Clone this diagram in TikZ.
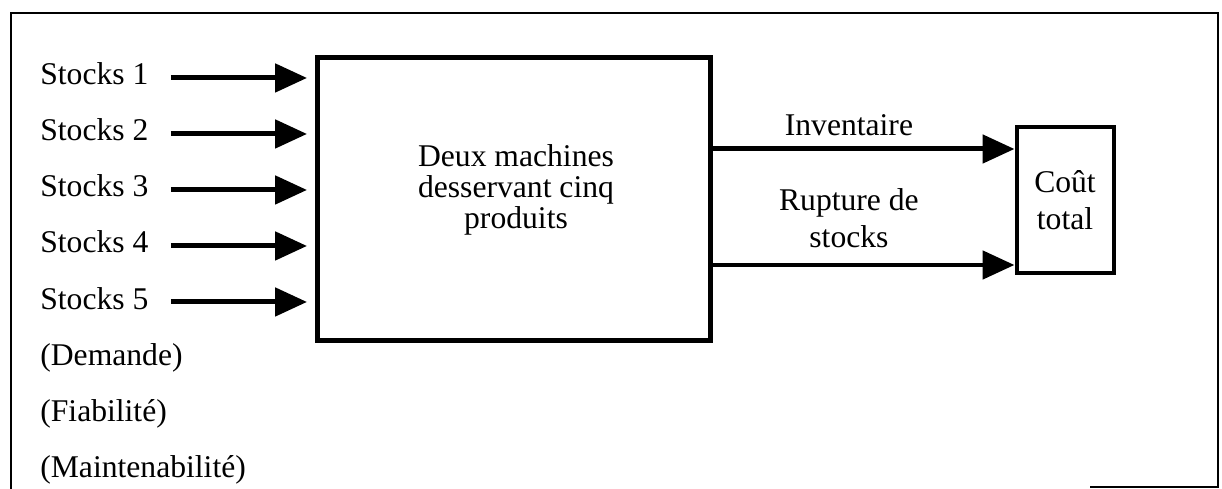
\documentclass[tikz,border=0pt]{standalone}
\usepackage{fontspec}
\setmainfont{Liberation Serif}
\usetikzlibrary{arrows.meta, positioning}

\begin{document}
\begin{tikzpicture}[x=0.02cm, y=-0.02cm, font=\fontsize{18}{21}\selectfont]
		\tikzstyle{bigbox} = [draw=black, line width=0.1cm, minimum width=7.88cm, minimum height=5.68cm]
		\tikzstyle{costbox} = [draw=black, line width=0.08cm, minimum width=1.94cm, minimum height=2.94cm, align=center, font=\fontsize{18}{20.8}\selectfont]
		\tikzstyle{invar} = [anchor=base west, inner xsep=0pt, text height=12pt, text depth=4pt]
		\tikzstyle{arrow} = [line width=0.1cm, -{Triangle[length=0.64cm, width=0.56cm]}]
		\tikzstyle{feed} = [shorten <=0.44cm, shorten >=0.15cm]
		
		\useasboundingbox (0,0) rectangle (1222,489);
		% cadre
		\draw[line width=0.04cm] (11,489) -- (11,13) -- (1218,13) -- (1218,487) -- (1090,487);
		
		\node[bigbox] 	at (514, 199) 	(mach) 	{};
		\node[align=center, font=\fontsize{18}{17.5}\selectfont] at (516, 190) (titre) {Deux machines\\desservant cinq\\produits};
		\node[costbox] 	at (1065, 200) 	(cout) 	{Coût\\total};
		
		\node[invar] 	at (40, 85) 	(s1) 	{Stocks 1};
		\node[invar] 	at (40, 141) 	(s2) 	{Stocks 2};
		\node[invar] 	at (40, 197) 	(s3) 	{Stocks 3};
		\node[invar] 	at (40, 253) 	(s4) 	{Stocks 4};
		\node[invar] 	at (40, 309) 	(s5) 	{Stocks 5};
		\node[invar] 	at (40, 365) 	(dem) 	{(Demande)};
		\node[invar] 	at (40, 421) 	(fia) 	{(Fiabilité)};
		\node[invar] 	at (40, 477) 	(mai) 	{(Maintenabilité)};
		
		\coordinate (inv) at (0, 149);
		\coordinate (rup) at (0, 265);
		
		\path[arrow]
		(s1.east) 	edge [feed] 	(s1.east -| mach.west)
		(s2.east) 	edge [feed] 	(s2.east -| mach.west)
		(s3.east) 	edge [feed] 	(s3.east -| mach.west)
		(s4.east) 	edge [feed] 	(s4.east -| mach.west)
		(s5.east) 	edge [feed] 	(s5.east -| mach.west)
		(inv -| mach.east) 	edge 	node[above=0.1cm, pos=0.45] 	{Inventaire} 	(inv -| cout.west)
		(rup -| mach.east) 	edge 	node[above=0.18cm, pos=0.45, align=center, font=\fontsize{18}{20.8}\selectfont] 	{Rupture de\\stocks} 	(rup -| cout.west);
	\end{tikzpicture}
\end{document}
